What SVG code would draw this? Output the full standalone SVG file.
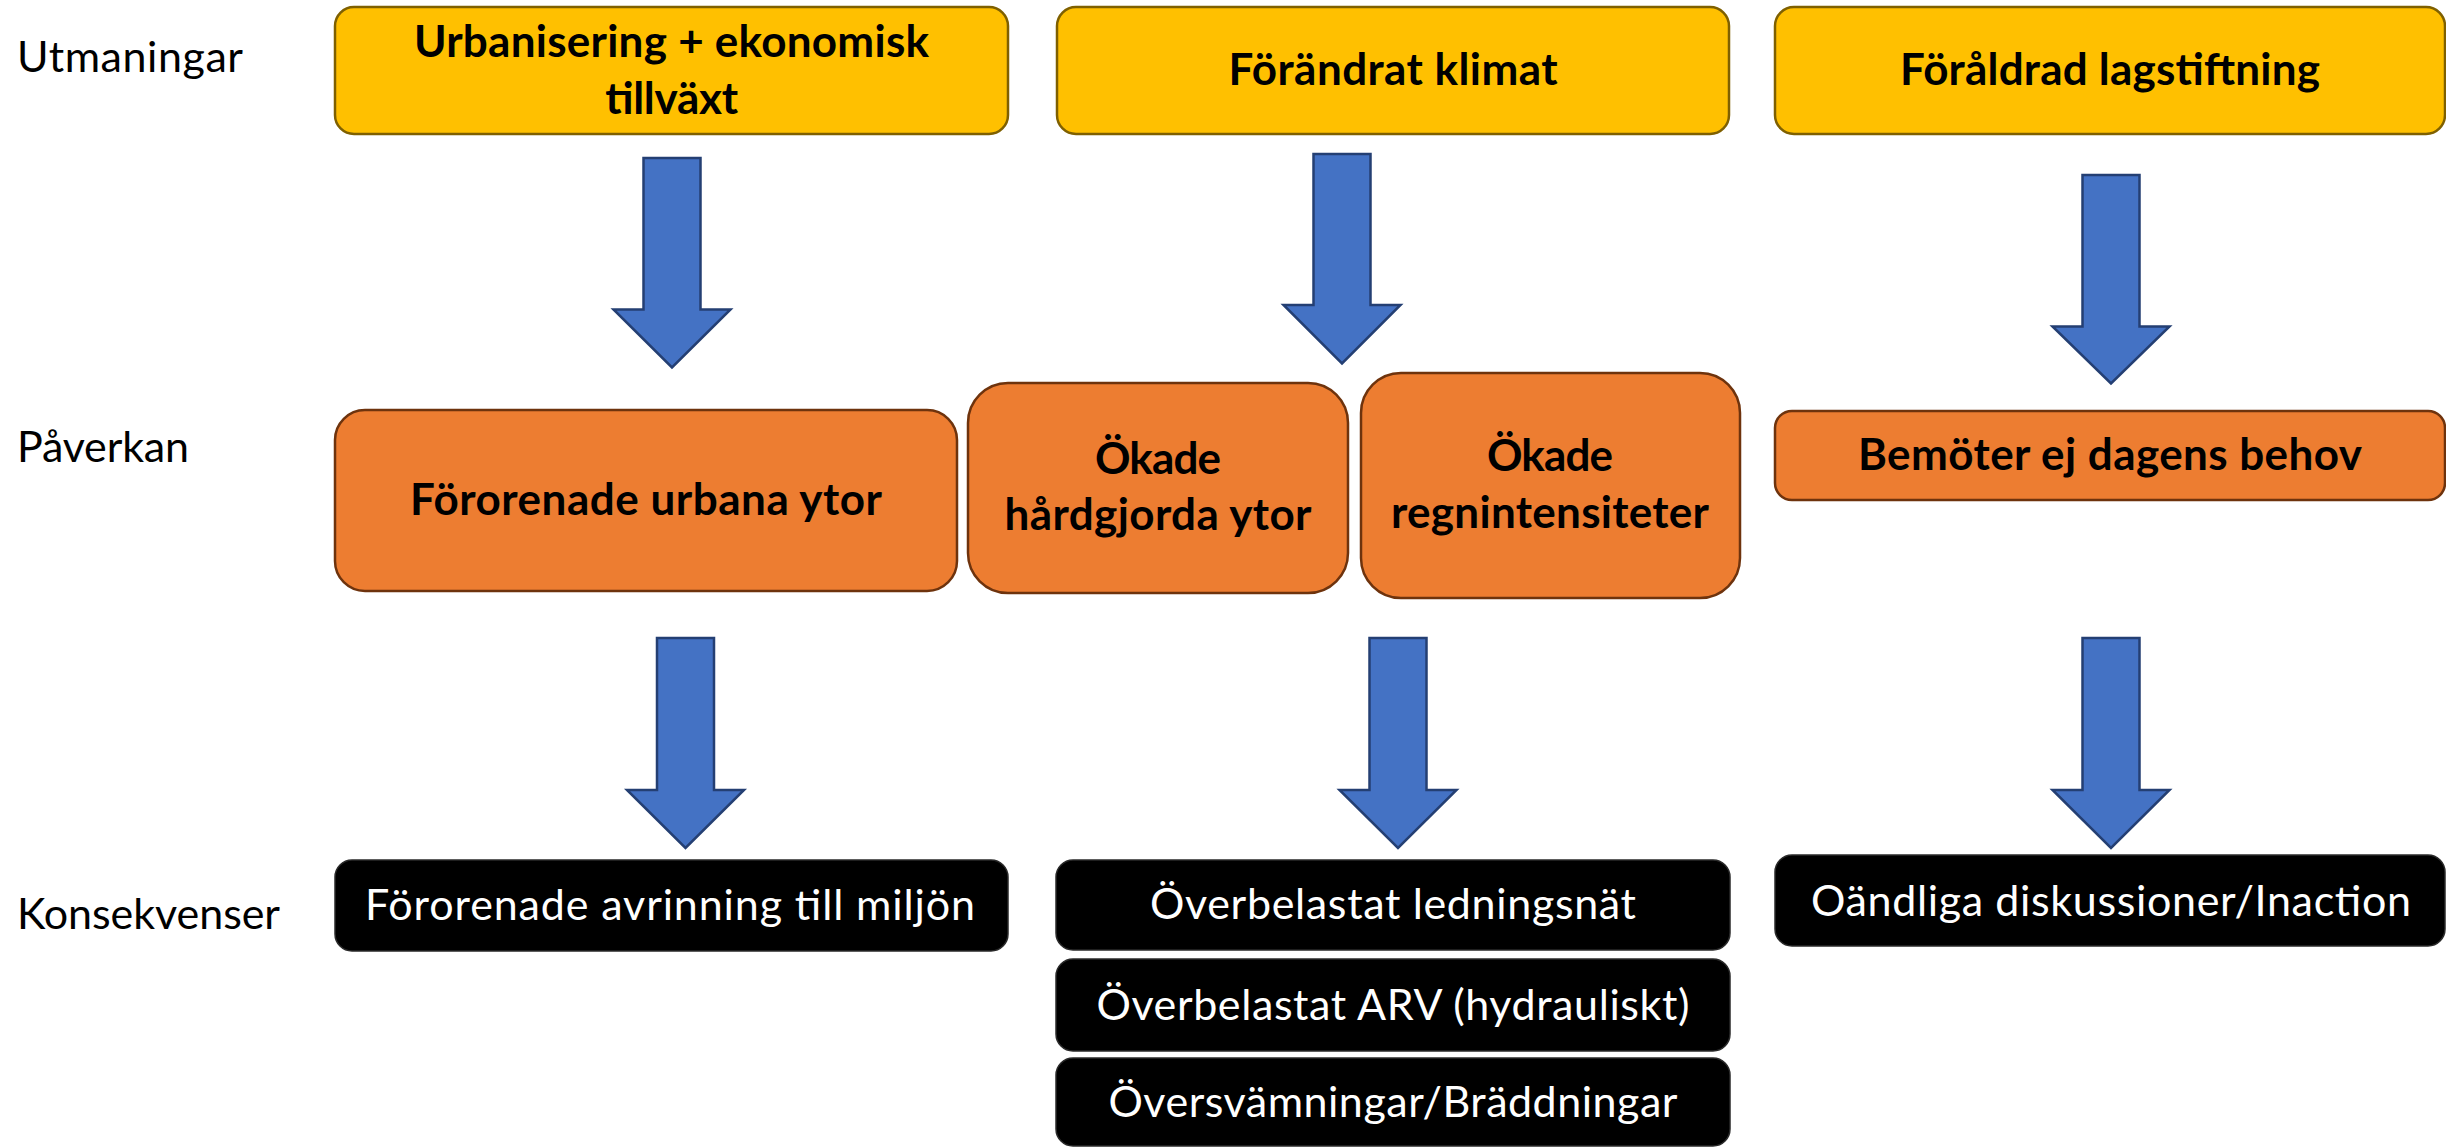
<svg xmlns="http://www.w3.org/2000/svg" width="2446" height="1147" viewBox="0 0 2446 1147">
<style>
.lbl{font-family:Lato,"Open Sans","Liberation Sans",sans-serif;font-size:43px;fill:#000}
.yb{fill:#FFC000;stroke:#7F6000;stroke-width:2.5}
.ob{fill:#ED7D31;stroke:#6E330D;stroke-width:2.5}
.kb{fill:#000;stroke:#2a2a2a;stroke-width:1.5}
.bt{font-family:Lato,"Open Sans","Liberation Sans",sans-serif;font-weight:bold;font-size:44px;fill:#000;text-anchor:middle}
.wt{font-family:Lato,"Open Sans","Liberation Sans",sans-serif;font-size:43px;fill:#fff;text-anchor:middle}
.arr{fill:#4472C4;stroke:#243F73;stroke-width:2.5;stroke-linejoin:miter}
</style>
<rect width="2446" height="1147" fill="#fff"/>
<g id="row-labels">
<text class="lbl" x="17" y="72" textLength="226">Utmaningar</text>
<text class="lbl" x="17" y="462" textLength="172">Påverkan</text>
<text class="lbl" x="17" y="929" textLength="263">Konsekvenser</text>
</g>
<g id="n-urbanisering">
<rect class="yb" x="335" y="7" width="673" height="127" rx="19"/>
<text class="bt" x="671.5" y="57" textLength="515">Urbanisering + ekonomisk</text>
<text class="bt" x="671.5" y="114" textLength="133">tillväxt</text>
</g>
<g id="n-klimat">
<rect class="yb" x="1057" y="7" width="672" height="127" rx="19"/>
<text class="bt" x="1393" y="85" textLength="329">Förändrat klimat</text>
</g>
<g id="n-lagstiftning">
<rect class="yb" x="1775" y="7" width="670" height="127" rx="19"/>
<text class="bt" x="2110" y="85" textLength="420">Föråldrad lagstiftning</text>
</g>
<g id="n-fororenade-ytor">
<rect class="ob" x="335" y="410" width="622" height="181" rx="30"/>
<text class="bt" x="646" y="515" textLength="472">Förorenade urbana ytor</text>
</g>
<g id="n-hardgjorda">
<rect class="ob" x="968" y="383" width="380" height="210" rx="40"/>
<text class="bt" x="1158" y="474" textLength="126">Ökade</text>
<text class="bt" x="1158" y="530" textLength="307">hårdgjorda ytor</text>
</g>
<g id="n-regn">
<rect class="ob" x="1361" y="373" width="379" height="225" rx="40"/>
<text class="bt" x="1550" y="471" textLength="126">Ökade</text>
<text class="bt" x="1550" y="528" textLength="318">regnintensiteter</text>
</g>
<g id="n-bemoter">
<rect class="ob" x="1775" y="411" width="670" height="89" rx="17"/>
<text class="bt" x="2110" y="470" textLength="504">Bemöter ej dagens behov</text>
</g>
<g id="n-avrinning">
<rect class="kb" x="335" y="860" width="673" height="91" rx="17"/>
<text class="wt" x="670" y="920" textLength="610">Förorenade avrinning till miljön</text>
</g>
<g id="n-ledningsnat">
<rect class="kb" x="1056" y="860" width="674" height="90" rx="17"/>
<text class="wt" x="1393" y="919" textLength="486">Överbelastat ledningsnät</text>
</g>
<g id="n-arv">
<rect class="kb" x="1056" y="959" width="674" height="92" rx="17"/>
<text class="wt" x="1393" y="1020" textLength="593">Överbelastat ARV (hydrauliskt)</text>
</g>
<g id="n-oversvamningar">
<rect class="kb" x="1056" y="1058" width="674" height="88" rx="17"/>
<text class="wt" x="1393" y="1117" textLength="569">Översvämningar/Bräddningar</text>
</g>
<g id="n-inaction">
<rect class="kb" x="1775" y="855" width="670" height="91" rx="17"/>
<text class="wt" x="2111" y="916" textLength="600">Oändliga diskussioner/Inaction</text>
</g>
<g id="connectors">
<polygon class="arr" points="643.5,158 700.5,158 700.5,309.5 730.5,309.5 672,367.5 613.5,309.5 643.5,309.5"/>
<polygon class="arr" points="1313.5,154 1370.5,154 1370.5,305 1400.5,305 1342,363.5 1283.5,305 1313.5,305"/>
<polygon class="arr" points="2082.5,175 2139.5,175 2139.5,326.5 2169.5,326.5 2111,383.5 2052.5,326.5 2082.5,326.5"/>
<polygon class="arr" points="657,638 714,638 714,790 744,790 685.5,848 627,790 657,790"/>
<polygon class="arr" points="1369.5,638 1426.5,638 1426.5,790 1456.5,790 1398,848 1339.5,790 1369.5,790"/>
<polygon class="arr" points="2082.5,638 2139.5,638 2139.5,790 2169.5,790 2111,848 2052.5,790 2082.5,790"/>
</g>
</svg>
